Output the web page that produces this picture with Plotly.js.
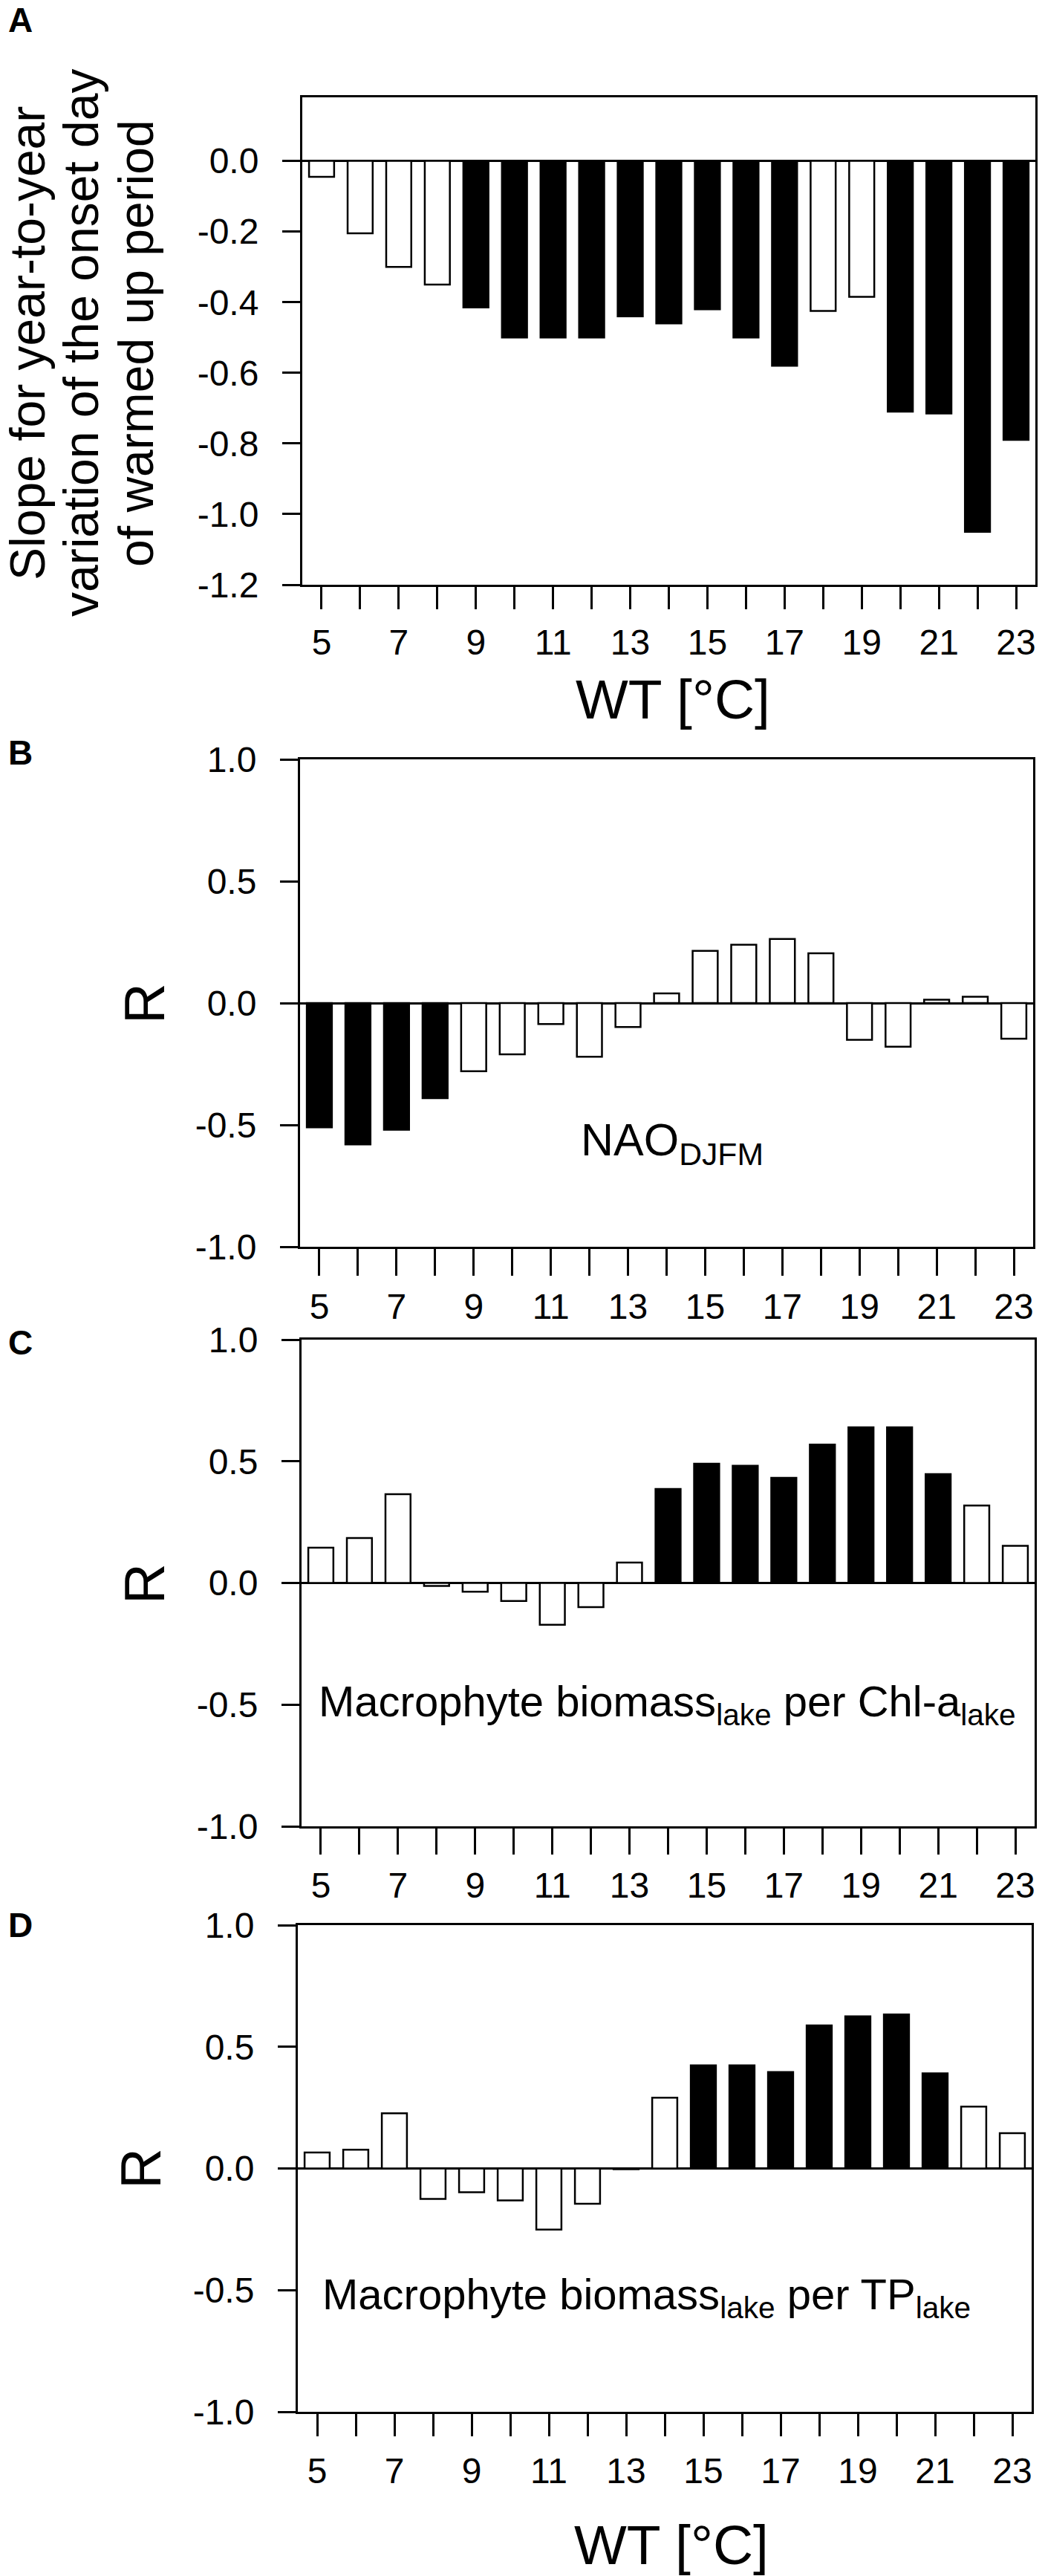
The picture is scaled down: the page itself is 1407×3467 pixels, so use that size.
<!DOCTYPE html>
<html>
<head>
<meta charset="utf-8">
<script src="https://cdn.plot.ly/plotly-3.0.1.min.js"></script>
<style>
  body { margin: 0; background: #fff; }
  #chart { width: 1407px; height: 3467px; }
</style>
</head>
<body>
<div id="chart"></div>
<script>
// water temperature thresholds (x categories)
const wt = [5, 6, 7, 8, 9, 10, 11, 12, 13, 14, 15, 16, 17, 18, 19, 20, 21, 22, 23];

// A: slope of onset day, 1 = significant (black bar)
const slopeA = [-0.045, -0.205, -0.30, -0.35, -0.415, -0.50, -0.50, -0.50, -0.44, -0.46,
                -0.42, -0.50, -0.58, -0.425, -0.385, -0.71, -0.715, -1.05, -0.79];
const sigA   = [0, 0, 0, 0, 1, 1, 1, 1, 1, 1, 1, 1, 1, 0, 0, 1, 1, 1, 1];

// B: R with NAO DJFM
const rNao   = [-0.51, -0.58, -0.52, -0.39, -0.28, -0.21, -0.086, -0.22, -0.098, 0.04,
                0.214, 0.239, 0.263, 0.204, -0.151, -0.179, 0.014, 0.026, -0.146];
const sigNao = [1, 1, 1, 1, 0, 0, 0, 0, 0, 0, 0, 0, 0, 0, 0, 0, 0, 0, 0];

// C: R with macrophyte biomass per Chl-a
const rChl   = [0.145, 0.185, 0.365, -0.012, -0.036, -0.074, -0.172, -0.099, 0.084, 0.386,
                0.49, 0.482, 0.432, 0.569, 0.64, 0.64, 0.447, 0.318, 0.153];
const sigChl = [0, 0, 0, 0, 0, 0, 0, 0, 0, 1, 1, 1, 1, 1, 1, 1, 1, 0, 0];

// D: R with macrophyte biomass per TP
const rTp    = [0.066, 0.077, 0.227, -0.125, -0.098, -0.131, -0.251, -0.145, -0.003, 0.291,
                0.424, 0.424, 0.396, 0.588, 0.625, 0.633, 0.391, 0.254, 0.145];
const sigTp  = [0, 0, 0, 0, 0, 0, 0, 0, 0, 0, 1, 1, 1, 1, 1, 1, 1, 0, 0];

// tick labels
const yTickValsA = [0, -0.2, -0.4, -0.6, -0.8, -1.0, -1.2];
const yTickTextA = ['0.0', '-0.2', '-0.4', '-0.6', '-0.8', '-1.0', '-1.2'];
const yTickValsR = [1, 0.5, 0, -0.5, -1];
const yTickTextR = ['1.0', '0.5', '0.0', '-0.5', '-1.0'];
const xTickVals  = [5, 7, 9, 11, 13, 15, 17, 19, 21, 23];
const xTickText  = ['5', '7', '9', '11', '13', '15', '17', '19', '21', '23'];

const W = 1407, H = 3467;
const FONT = 'Liberation Sans, Arial, Helvetica, sans-serif';
const px = v => v / W;
const py = v => 1 - v / H;

function barTrace(vals, sig, n) {
  return {
    type: 'bar',
    x: wt,
    y: vals,
    width: 0.65,
    xaxis: 'x' + (n == 1 ? '' : n),
    yaxis: 'y' + (n == 1 ? '' : n),
    marker: {
      color: sig.map(s => (s ? '#000' : '#fff')),
      line: {color: '#000', width: 2.5}
    },
    hoverinfo: 'x+y'
  };
}

function xAxis(left, right, ticklen, standoff) {
  return {
    domain: [px(left), px(right)],
    range: [4.5, 23.5],
    tickmode: 'array',
    tickvals: xTickVals,
    ticktext: xTickText,
    ticks: 'outside',
    ticklen: ticklen,
    tickwidth: 2.5,
    tickcolor: '#000',
    ticklabelstandoff: standoff,
    // unlabelled ticks on the even degrees
    minor: {tickmode: 'linear', tick0: 5, dtick: 1, ticks: 'outside',
            ticklen: ticklen, tickwidth: 2.5, tickcolor: '#000', showgrid: false},
    showline: true,
    linewidth: 3,
    linecolor: '#000',
    mirror: true,
    showgrid: false,
    zeroline: false,
    tickfont: {family: FONT, size: 48, color: '#000'},
    fixedrange: true
  };
}

function yAxis(top, bottom, range, vals, text) {
  return {
    domain: [py(bottom), py(top)],
    range: range,
    tickmode: 'array',
    tickvals: vals,
    ticktext: text,
    ticks: 'outside',
    ticklen: 24,
    tickwidth: 2.5,
    tickcolor: '#000',
    ticklabelstandoff: 22,
    showline: true,
    linewidth: 3,
    linecolor: '#000',
    mirror: true,
    showgrid: false,
    zeroline: true,
    zerolinewidth: 3,
    zerolinecolor: '#000',
    tickfont: {family: FONT, size: 48, color: '#000'},
    fixedrange: true
  };
}

// annotation placed in page pixels, centred unless told otherwise
function note(text, x, y, size, opts) {
  return Object.assign({
    xref: 'paper', yref: 'paper',
    x: px(x), y: py(y),
    xanchor: 'center', yanchor: 'middle',
    text: text,
    showarrow: false,
    borderpad: 0,
    font: {family: FONT, size: size, color: '#000'}
  }, opts || {});
}

const traces = [
  barTrace(slopeA, sigA, 1),
  barTrace(rNao, sigNao, 2),
  barTrace(rChl, sigChl, 3),
  barTrace(rTp, sigTp, 4)
];

const layout = {
  width: W,
  height: H,
  margin: {l: 0, r: 0, t: 0, b: 0},
  paper_bgcolor: '#fff',
  plot_bgcolor: '#fff',
  showlegend: false,
  xaxis:  Object.assign(xAxis(407, 1394, 30, 3), {anchor: 'y'}),
  yaxis:  Object.assign(yAxis(131, 787, [-1.2, 0.18], yTickValsA, yTickTextA), {anchor: 'x'}),
  xaxis2: Object.assign(xAxis(404, 1391, 36, 0), {anchor: 'y2'}),
  yaxis2: Object.assign(yAxis(1022, 1678, [-1, 1], yTickValsR, yTickTextR), {anchor: 'x2'}),
  xaxis3: Object.assign(xAxis(406, 1393, 35, 0), {anchor: 'y3'}),
  yaxis3: Object.assign(yAxis(1803, 2458, [-1, 1], yTickValsR, yTickTextR), {anchor: 'x3'}),
  xaxis4: Object.assign(xAxis(401, 1389, 30, 5), {anchor: 'y4'}),
  yaxis4: Object.assign(yAxis(2591, 3246, [-1, 1], yTickValsR, yTickTextR), {anchor: 'x4'}),
  annotations: [
    // panel letters
    note('<b>A</b>', 10, 0, 46, {xanchor: 'left', yanchor: 'top'}),
    note('<b>B</b>', 10, 1013, 46, {xanchor: 'left'}),
    note('<b>C</b>', 10, 1807, 46, {xanchor: 'left'}),
    note('<b>D</b>', 10, 2591, 46, {xanchor: 'left'}),
    // A y title, three lines
    note('Slope for year-to-year', 37, 462, 66, {textangle: -90}),
    note('variation of the onset day', 109, 462, 66, {textangle: -90}),
    note('of warmed up period', 183, 462, 66, {textangle: -90}),
    // x titles
    note('WT [°C]', 906, 941, 75),
    note('WT [°C]', 904, 3425, 75),
    // R titles
    note('R', 194, 1350, 76, {textangle: -90}),
    note('R', 194, 2131, 76, {textangle: -90}),
    note('R', 189, 2919, 76, {textangle: -90}),
    // in-panel labels
    note('NAO<sub>DJFM</sub>', 781, 1499, 61, {xanchor: 'left', yanchor: 'top'}),
    note('Macrophyte biomass<sub>lake</sub> per Chl-a<sub>lake</sub>', 428, 2256, 58,
         {xanchor: 'left', yanchor: 'top'}),
    note('Macrophyte biomass<sub>lake</sub> per TP<sub>lake</sub>', 433, 3054, 58,
         {xanchor: 'left', yanchor: 'top'})
  ]
};

Plotly.newPlot('chart', traces, layout, {displayModeBar: false, responsive: false});
</script>
</body>
</html>
